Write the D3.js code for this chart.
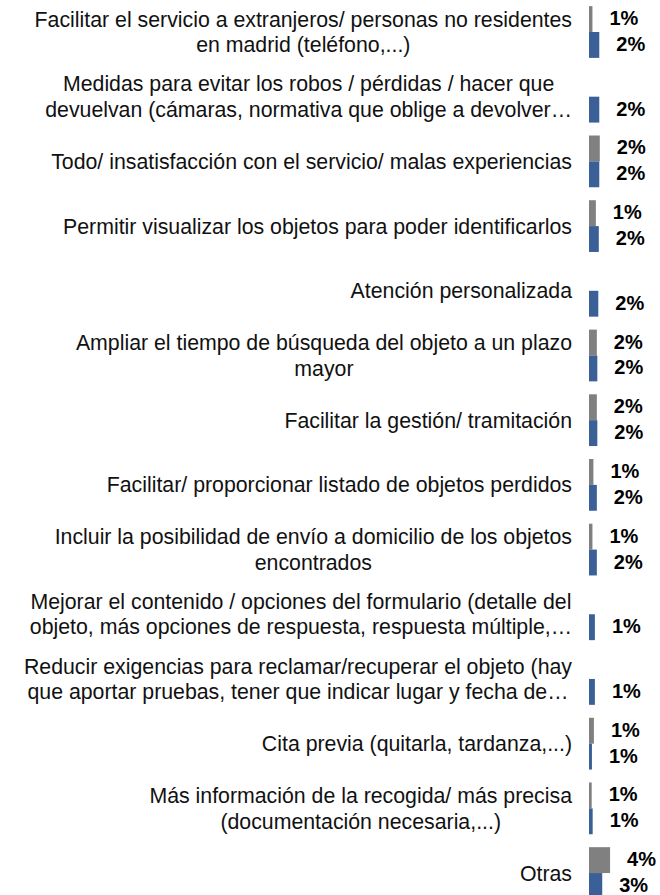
<!DOCTYPE html>
<html><head><meta charset="utf-8">
<script src="https://cdn.jsdelivr.net/npm/d3@7"></script>
<style>body{margin:0;background:#fff}svg{display:block}</style>
</head><body><svg id="chart" width="660" height="895"></svg>
<script>
const categoryLines = [
  ["Facilitar el servicio a extranjeros/ personas no residentes", "en madrid (teléfono,...)"],
  ["Medidas para evitar los robos / pérdidas / hacer que", "devuelvan (cámaras, normativa que oblige a devolver…"],
  ["Todo/ insatisfacción con el servicio/ malas experiencias"],
  ["Permitir visualizar los objetos para poder identificarlos"],
  ["Atención personalizada"],
  ["Ampliar el tiempo de búsqueda del objeto a un plazo", "mayor"],
  ["Facilitar la gestión/ tramitación"],
  ["Facilitar/ proporcionar listado de objetos perdidos"],
  ["Incluir la posibilidad de envío a domicilio de los objetos", "encontrados"],
  ["Mejorar el contenido / opciones del formulario (detalle del", "objeto, más opciones de respuesta, respuesta múltiple,…"],
  ["Reducir exigencias para reclamar/recuperar el objeto (hay", "que aportar pruebas, tener que indicar lugar y fecha de…"],
  ["Cita previa (quitarla, tardanza,...)"],
  ["Más información de la recogida/ más precisa", "(documentación necesaria,...)"],
  ["Otras"]
];
const seriesKeys = ["gray", "blue"];
const grayValues = [0.7, null, 2.2, 1.4, null, 1.6, 1.6, 0.9, 0.7, null, null, 1.0, 0.55, 4.3];
const blueValues = [2.1, 2.1, 2.1, 2.0, 1.9, 1.7, 1.7, 1.6, 1.6, 1.2, 1.2, 0.6, 0.75, 2.7];
const seriesColors = {gray: "#808080", blue: "#3a6097"};

const svg = d3.select("#chart");
const x = d3.scaleLinear().domain([0, 14]).range([589, 589 + 68.6]);
const y = d3.scaleBand().domain(d3.range(categoryLines.length))
  .range([-0.35, 905.4]).paddingInner(0.2).paddingOuter(0.1);
const ySub = d3.scaleBand().domain(seriesKeys).range([0, y.bandwidth()]);

const rows = categoryLines.map((lines, i) => ({
  i, lines,
  vals: [{k: "gray", v: grayValues[i]}, {k: "blue", v: blueValues[i]}]
}));

const g = svg.selectAll("g.row").data(rows).join("g")
  .attr("class", "row")
  .attr("transform", d => `translate(0,${y(d.i)})`);

g.selectAll("rect").data(d => d.vals.filter(e => e.v != null)).join("rect")
  .attr("x", x(0))
  .attr("y", e => ySub(e.k))
  .attr("width", e => x(e.v) - x(0))
  .attr("height", ySub.bandwidth())
  .attr("fill", e => seriesColors[e.k]);

g.selectAll("text.val").data(d => d.vals.filter(e => e.v != null)).join("text")
  .attr("class", "val")
  .attr("x", e => x(e.v) + 17)
  .attr("y", e => ySub(e.k) + ySub.bandwidth() / 2 - 1)
  .attr("dy", "0.35em")
  .attr("font-family", "Liberation Sans, Arial, sans-serif")
  .attr("font-weight", "bold")
  .attr("font-size", 20)
  .attr("fill", "#000")
  .text(e => Math.round(e.v) + "%");

const lineH = 25.5;
const rightEdge = 572;
rows.forEach(d => {
  const lg = svg.append("g").attr("transform", `translate(0,${y(d.i) + y.bandwidth() / 2})`);
  const n = d.lines.length;
  const texts = lg.selectAll("text").data(d.lines).join("text")
    .attr("y", (t, j) => (j - (n - 1) / 2) * lineH)
    .attr("dy", "0.35em")
    .attr("font-family", "Liberation Sans, Arial, sans-serif")
    .attr("font-size", 21.3)
    .attr("fill", "#111")
    .attr("text-anchor", "middle")
    .text(t => t);
  let maxW = 0;
  texts.each(function() { maxW = Math.max(maxW, this.getComputedTextLength()); });
  texts.attr("x", rightEdge - maxW / 2);
});
</script></body></html>
